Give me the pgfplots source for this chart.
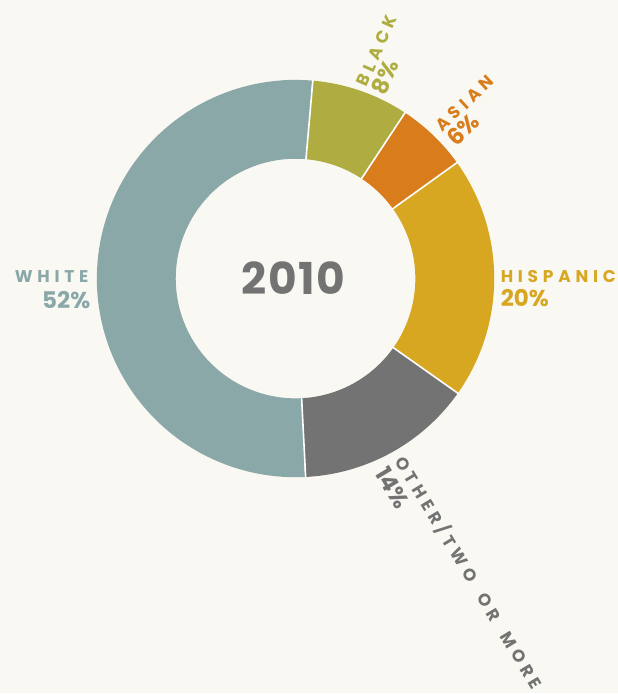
\documentclass[border=0pt]{standalone}
\usepackage{pgfplots}
\pgfplotsset{compat=1.18}
\usepackage{fontspec}
\setmainfont{Poppins}

\definecolor{bg}{HTML}{F9F8F2}
\definecolor{cWhite}{HTML}{8AA8A8}
\definecolor{cBlack}{HTML}{AFAD42}
\definecolor{cAsian}{HTML}{D97C1B}
\definecolor{cHisp}{HTML}{D8A722}
\definecolor{cOther}{HTML}{737373}

\newcommand\namefont{\fontsize{8.5}{10}\selectfont\bfseries\addfontfeature{LetterSpace=28}}
\newcommand\pctfont{\fontsize{11.5}{12}\selectfont\bfseries}

\tikzset{
  ring/.style={line width=39.5pt},
  lab/.style={inner sep=0.6pt},
}

\begin{document}
\begin{tikzpicture}
% shares (percent) as read off the ring, clockwise from the top
\def\pBlack{7.9}
\def\pAsian{5.8}
\def\pHisp{19.7}
\def\pOther{14.4}
\def\pWhite{52.2}
\pgfmathsetmacro\aA{5}
\pgfmathsetmacro\aB{\aA+3.6*\pBlack}
\pgfmathsetmacro\aC{\aB+3.6*\pAsian}
\pgfmathsetmacro\aD{\aC+3.6*\pHisp}
\pgfmathsetmacro\aE{\aD+3.6*\pOther}
\pgfmathsetmacro\aF{\aE+3.6*\pWhite}
\begin{axis}[
    hide axis,
    scale only axis,
    width=309.5pt, height=347pt,
    xmin=0, xmax=619, ymin=0, ymax=694,
    clip=false,
    samples=90,
    no markers,
]
\fill[bg] (axis cs:0,0) rectangle (axis cs:619,694);

% ring, centre (296,415), mid radius 159.5
\addplot[ring, cBlack, domain=\aA:\aB] ({296+159.5*sin(x)},{415+159.5*cos(x)});
\addplot[ring, cAsian, domain=\aB:\aC] ({296+159.5*sin(x)},{415+159.5*cos(x)});
\addplot[ring, cHisp,  domain=\aC:\aD] ({296+159.5*sin(x)},{415+159.5*cos(x)});
\addplot[ring, cOther, domain=\aD:\aE] ({296+159.5*sin(x)},{415+159.5*cos(x)});
\addplot[ring, cWhite, domain=\aE:\aF] ({296+159.5*sin(x)},{415+159.5*cos(x)});

% thin white gaps between slices
\pgfplotsinvokeforeach{\aA,\aB,\aC,\aD,\aE}{
  \addplot[white, line width=0.8pt, domain=119:200, samples=2] ({296+x*sin(#1)},{415+x*cos(#1)});
}

\node[text=cOther] at (axis cs:294,415.5) {\fontsize{22}{22}\selectfont\bfseries\addfontfeature{LetterSpace=4}2010};

% labels
\node[lab, text=cWhite, anchor=base east] at (axis cs:90,411) {\namefont WHITE};
\node[lab, text=cWhite, anchor=base east] at (axis cs:92,385) {\pctfont 52\%};

\node[lab, text=cHisp, anchor=base west] at (axis cs:500,411) {\namefont HISPANIC};
\node[lab, text=cHisp, anchor=base west] at (axis cs:500,387) {\pctfont 20\%};

\node[lab, text=cBlack, rotate=66, anchor=south west] at (axis cs:368,604) {\namefont BLACK};
\node[lab, text=cBlack, rotate=66, anchor=north west] at (axis cs:368,604) {\pctfont 8\%};

\node[lab, text=cAsian, rotate=43, anchor=south west] at (axis cs:443,559) {\namefont ASIAN};
\node[lab, text=cAsian, rotate=43, anchor=north west] at (axis cs:443,559) {\pctfont 6\%};

\node[lab, text=cOther, rotate=-59, anchor=south west] at (axis cs:390,231) {\namefont OTHER/TWO\hspace{0.95em}OR\hspace{0.95em}MORE};
\node[lab, text=cOther, rotate=-59, anchor=north west] at (axis cs:390,231) {\pctfont 14\%};
\end{axis}
\end{tikzpicture}
\end{document}
